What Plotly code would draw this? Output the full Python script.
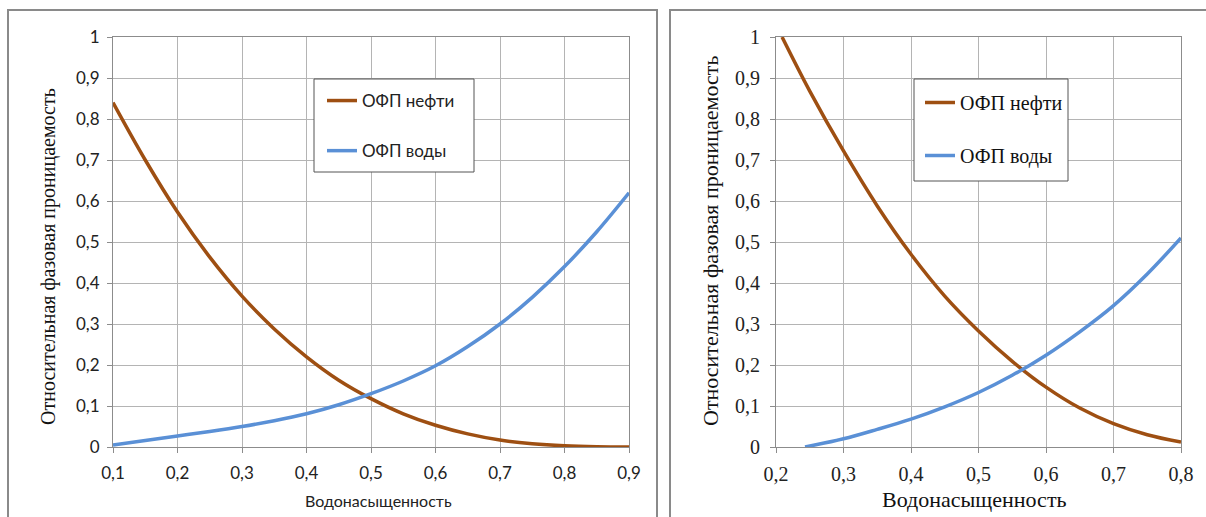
import plotly.graph_objects as go

W, H = 1206, 517

# Panel 1 (sans-serif styling): water saturation vs relative permeability
sw_left = [0.10, 0.15, 0.20, 0.25, 0.30, 0.35, 0.40, 0.45, 0.50,
           0.55, 0.60, 0.65, 0.70, 0.75, 0.80, 0.85, 0.90]
kro_left = [0.84, 0.70, 0.573, 0.463, 0.368, 0.288, 0.22, 0.163, 0.118,
            0.081, 0.053, 0.032, 0.017, 0.008, 0.003, 0.0007, 0.0]
krw_left = [0.005, 0.016, 0.027, 0.038, 0.050, 0.064, 0.081, 0.103, 0.130,
            0.161, 0.198, 0.245, 0.300, 0.365, 0.440, 0.525, 0.620]

# Panel 2 (serif styling)
sw_oil_right = [0.209, 0.25, 0.30, 0.35, 0.40, 0.45, 0.50,
                0.55, 0.60, 0.65, 0.70, 0.75, 0.80]
kro_right = [1.0, 0.868, 0.722, 0.588, 0.470, 0.368, 0.283,
             0.209, 0.146, 0.095, 0.057, 0.030, 0.012]
sw_wat_right = [0.243, 0.30, 0.35, 0.40, 0.45, 0.50,
                0.55, 0.60, 0.65, 0.70, 0.75, 0.80]
krw_right = [0.0, 0.020, 0.043, 0.068, 0.098, 0.133,
             0.175, 0.224, 0.281, 0.345, 0.422, 0.510]

name_oil = "ОФП нефти"
name_water = "ОФП воды"
y_title = "Относительная фазовая проницаемость"
x_title = "Водонасыщенность"

OIL = "#9E4F12"
WATER = "#5A90D6"
GRID = "#B4B4B4"
FRAME = "#8C8C8C"
SANS = "Lato, Open Sans, sans-serif"
SERIF = "Liberation Serif, Times New Roman, serif"


def px(x):
    return x / W


def py(y):
    return 1 - y / H


fig = go.Figure()

fig.add_trace(go.Scatter(x=sw_left, y=kro_left, name=name_oil, mode="lines",
                         line=dict(color=OIL, width=3.5, shape="spline"),
                         xaxis="x", yaxis="y", legend="legend", legendgroup="a"))
fig.add_trace(go.Scatter(x=sw_left, y=krw_left, name=name_water, mode="lines",
                         line=dict(color=WATER, width=3.5, shape="spline"),
                         xaxis="x", yaxis="y", legend="legend", legendgroup="b"))
fig.add_trace(go.Scatter(x=sw_oil_right, y=kro_right, name=name_oil, mode="lines",
                         line=dict(color=OIL, width=3.5, shape="spline"),
                         xaxis="x2", yaxis="y2", legend="legend2", legendgroup="c"))
fig.add_trace(go.Scatter(x=sw_wat_right, y=krw_right, name=name_water, mode="lines",
                         line=dict(color=WATER, width=3.5, shape="spline"),
                         xaxis="x2", yaxis="y2", legend="legend2", legendgroup="d"))

ydom = [py(447), py(37)]


def axis_common(font, size):
    return dict(showgrid=True, gridcolor=GRID, gridwidth=1,
                showline=True, linecolor=FRAME, linewidth=1, mirror=True,
                ticks="outside", ticklen=5, tickcolor=FRAME, automargin=False,
                zeroline=False, tickfont=dict(family=font, size=size, color="#222"))


fig.update_layout(
    width=W, height=H,
    margin=dict(l=0, r=0, t=0, b=0, autoexpand=False),
    paper_bgcolor="white", plot_bgcolor="white",
    separators=", ",
    showlegend=True,
    xaxis=dict(domain=[px(113), px(629)], range=[0.1, 0.9], dtick=0.1, tick0=0.1,
               anchor="y", ticklabelstandoff=6, **axis_common(SANS, 17)),
    yaxis=dict(domain=ydom, range=[0, 1], dtick=0.1, anchor="x",
               ticklabelstandoff=4, **axis_common(SANS, 17)),
    xaxis2=dict(domain=[px(776), px(1181)], range=[0.2, 0.8], dtick=0.1, tick0=0.2,
                anchor="y2", ticklabelstandoff=4, **axis_common(SERIF, 20)),
    yaxis2=dict(domain=ydom, range=[0, 1], dtick=0.1, anchor="x2",
                ticklabelstandoff=6, **axis_common(SERIF, 20)),
    legend=dict(x=px(322), y=py(83), xanchor="left", yanchor="top",
                bgcolor="rgba(0,0,0,0)", borderwidth=0, tracegroupgap=25,
                font=dict(family=SANS, size=17, color="#222")),
    legend2=dict(x=px(920), y=py(83), xanchor="left", yanchor="top",
                 bgcolor="rgba(0,0,0,0)", borderwidth=0, tracegroupgap=24,
                 font=dict(family=SERIF, size=20, color="#111")),
)

shapes = [
    # outer panel frames
    dict(type="rect", xref="paper", yref="paper", x0=px(8), x1=px(657), y0=py(530), y1=py(10),
         line=dict(color="#8A8A8A", width=2), layer="below"),
    dict(type="rect", xref="paper", yref="paper", x0=px(670), x1=px(1220), y0=py(530), y1=py(10),
         line=dict(color="#8A8A8A", width=2), layer="below"),
    # legend boxes
    dict(type="rect", xref="paper", yref="paper", x0=px(314), x1=px(474), y0=py(172), y1=py(79),
         line=dict(color="#555", width=1), fillcolor="white", layer="above"),
    dict(type="rect", xref="paper", yref="paper", x0=px(914), x1=px(1068), y0=py(181), y1=py(79),
         line=dict(color="#555", width=1), fillcolor="white", layer="above"),
]
fig.update_layout(shapes=shapes)

annotations = [
    dict(text=y_title, x=px(48), y=py(257), xref="paper", yref="paper", textangle=-90,
         xanchor="center", yanchor="middle",
         showarrow=False, font=dict(family=SERIF, size=20, color="#111")),
    dict(text=x_title, x=px(378), y=py(500), xref="paper", yref="paper",
         xanchor="center", yanchor="middle",
         showarrow=False, font=dict(family=SANS, size=16, color="#222")),
    dict(text=y_title, x=px(710), y=py(241), xref="paper", yref="paper", textangle=-90,
         xanchor="center", yanchor="middle",
         showarrow=False, font=dict(family=SERIF, size=22, color="#111")),
    dict(text=x_title, x=px(974), y=py(499), xref="paper", yref="paper",
         xanchor="center", yanchor="middle",
         showarrow=False, font=dict(family=SERIF, size=22, color="#111")),
]
fig.update_layout(annotations=annotations)

fig.write_html("out.html")
